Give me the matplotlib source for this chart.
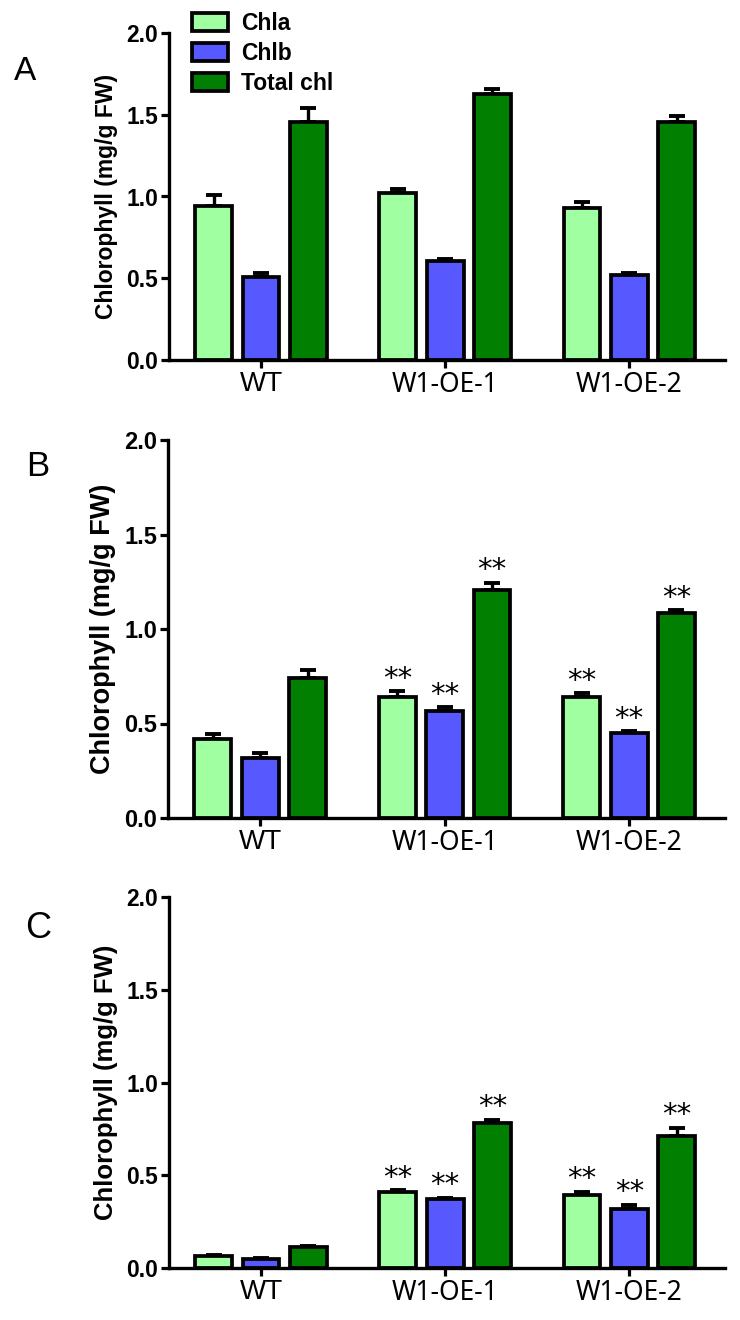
import numpy as np
import matplotlib.pyplot as plt

groups = ["WT", "W1-OE-1", "W1-OE-2"]
series = ["Chla", "Chlb", "Total chl"]
colors = ["#a0ffa0", "#5858ff", "#007f00"]

# panel A
chla_a = [0.94, 1.02, 0.93]
chlb_a = [0.51, 0.605, 0.52]
total_a = [1.455, 1.625, 1.455]
chla_a_err = [0.07, 0.025, 0.035]
chlb_a_err = [0.02, 0.015, 0.01]
total_a_err = [0.085, 0.035, 0.035]

# panel B
chla_b = [0.42, 0.64, 0.64]
chlb_b = [0.32, 0.565, 0.45]
total_b = [0.74, 1.205, 1.085]
chla_b_err = [0.025, 0.03, 0.02]
chlb_b_err = [0.025, 0.02, 0.01]
total_b_err = [0.045, 0.04, 0.015]

# panel C
chla_c = [0.065, 0.41, 0.395]
chlb_c = [0.05, 0.37, 0.32]
total_c = [0.115, 0.78, 0.71]
chla_c_err = [0.005, 0.01, 0.015]
chlb_c_err = [0.004, 0.01, 0.02]
total_c_err = [0.005, 0.02, 0.045]

# groups marked ** in panels B and C
sig_groups = ["W1-OE-1", "W1-OE-2"]

plt.rcParams['font.family'] = ['Liberation Sans', 'DejaVu Sans']

W, H = 740, 1320
fig = plt.figure(figsize=(W / 100, H / 100), dpi=100)


def box(left, top, right, bottom):
    return [left / W, 1 - bottom / H, (right - left) / W, (bottom - top) / H]


def draw_panel(ax, vals, errs, stars, tick_fs, label_fs):
    x = np.arange(len(groups))
    offsets = [-0.257, 0, 0.257]
    handles = []
    for k in range(3):
        ax.errorbar(x + offsets[k], vals[k], yerr=[np.zeros(3), errs[k]],
                    fmt='none', ecolor='black', elinewidth=2.4, capsize=5.5,
                    capthick=2.8, zorder=1)
        b = ax.bar(x + offsets[k], vals[k], width=0.2, color=colors[k],
                   edgecolor='black', linewidth=2.7, zorder=2)
        handles.append(b)
        if stars:
            for i, g in enumerate(groups):
                if g in sig_groups:
                    ax.annotate("**", (x[i] + offsets[k], vals[k][i] + errs[k][i]),
                                xytext=(0, 9), textcoords='offset points',
                                ha='center', va='center', fontsize=21,
                                family='DejaVu Sans')
    ax.set_xlim(-0.5, 2.52)
    ax.set_ylim(0, 2.0)
    ax.set_yticks([0, 0.5, 1.0, 1.5, 2.0])
    ax.set_yticklabels(["%.1f" % t for t in [0, 0.5, 1.0, 1.5, 2.0]],
                       fontsize=tick_fs, fontweight='bold')
    ax.set_xticks(x)
    ax.set_xticklabels(groups, fontsize=19)
    ax.get_xticklabels()[0].set_family('Liberation Sans')
    ax.get_xticklabels()[0].set_fontsize(20)
    for t in ax.get_xticklabels()[1:]:
        t.set_family('Noto Sans')
    ax.set_ylabel("Chlorophyll (mg/g FW)", fontsize=label_fs, fontweight='bold',
                  labelpad=6)
    for s in ['top', 'right']:
        ax.spines[s].set_visible(False)
    for s in ['left', 'bottom']:
        ax.spines[s].set_linewidth(2.4)
    ax.tick_params(axis='both', direction='out', length=6, width=2.3, pad=2)
    return handles


ax_a = fig.add_axes(box(169, 33, 725, 360))
h = draw_panel(ax_a, [chla_a, chlb_a, total_a],
               [chla_a_err, chlb_a_err, total_a_err], False, 16.5, 16.5)
ax_a.legend(h, series, loc='upper left', bbox_to_anchor=(192 / W, 1 - 12 / H),
            bbox_transform=fig.transFigure, frameon=False,
            prop={'weight': 'bold', 'size': 16.5}, handlelength=1.55,
            handleheight=0.85, labelspacing=0.3, handletextpad=0.6,
            borderpad=0, borderaxespad=0)

ax_b = fig.add_axes(box(168, 440, 725, 818))
draw_panel(ax_b, [chla_b, chlb_b, total_b],
           [chla_b_err, chlb_b_err, total_b_err], True, 17, 19.5)

ax_c = fig.add_axes(box(169, 897, 725, 1268))
draw_panel(ax_c, [chla_c, chlb_c, total_c],
           [chla_c_err, chlb_c_err, total_c_err], True, 16.5, 18.5)

fig.text(14 / W, 1 - 72 / H, "A", fontsize=24, va='center', ha='left')
fig.text(26 / W, 1 - 467 / H, "B", fontsize=25, va='center', ha='left')
fig.text(25 / W, 1 - 929 / H, "C", fontsize=26, va='center', ha='left')

fig.savefig("out.png", dpi=100)
